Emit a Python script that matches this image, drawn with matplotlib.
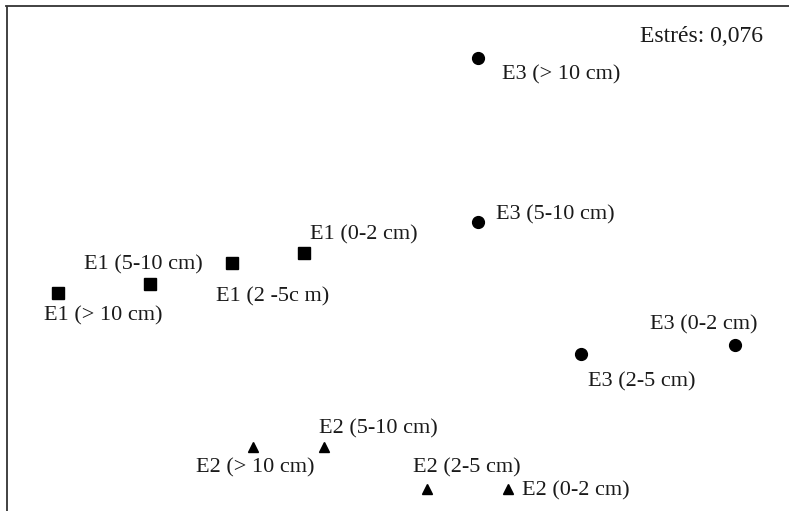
import matplotlib
matplotlib.use("Agg")
import matplotlib.pyplot as plt

plt.rcParams['font.family'] = ['Liberation Serif', 'DejaVu Serif']

# NMDS coordinates
e1_labels = ["E1 (0-2 cm)", "E1 (2 -5c m)", "E1 (5-10 cm)", "E1 (> 10 cm)"]
e1_x = [-0.24, -0.42, -0.625, -0.855]
e1_y = [0.0675, 0.0425, -0.01, -0.0325]

e2_labels = ["E2 (0-2 cm)", "E2 (2-5 cm)", "E2 (5-10 cm)", "E2 (> 10 cm)"]
e2_x = [0.27, 0.0675, -0.19, -0.3675]
e2_y = [-0.5225, -0.5225, -0.4175, -0.4175]

e3_labels = ["E3 (0-2 cm)", "E3 (2-5 cm)", "E3 (5-10 cm)", "E3 (> 10 cm)"]
e3_x = [0.8375, 0.4525, 0.195, 0.195]
e3_y = [-0.1625, -0.185, 0.145, 0.555]

stress_text = "Estrés: 0,076"

# label offsets in pixels (dx right, dy down) and alignment
e1_off = [(6, -20, 'left'), (-16, 32, 'left'), (-66, -21, 'left'), (-14, 21, 'left')]
e2_off = [(14, 0, 'left'), (-14, -23, 'left'), (-5, -20, 'left'), (-57, 19, 'left')]
e3_off = [(23, -22, 'right'), (7, 26, 'left'), (18, -9, 'left'), (24, 15, 'left')]

W, H = 789, 511
fig = plt.figure(figsize=(W / 100, H / 100), dpi=100)
left = 6.5 / W
top = 1 - 6.5 / H
ax = fig.add_axes([left, 0, 1 - left, top])
ax.set_xlim(-0.98375, 0.9725)
ax.set_ylim(-0.5775, 0.68375)
ax.set_xticks([])
ax.set_yticks([])
for s in ['right', 'bottom']:
    ax.spines[s].set_visible(False)
for s in ['left', 'top']:
    ax.spines[s].set_linewidth(1.3)
    ax.spines[s].set_color('#333333')

ax.plot(e1_x, e1_y, 's', color='black', markersize=8, linestyle='none')
ax.plot(e2_x, e2_y, '^', color='black', markersize=7.5, linestyle='none')
ax.plot(e3_x, e3_y, 'o', color='black', markersize=8.5, linestyle='none')

for labels, xs, ys, offs in [(e1_labels, e1_x, e1_y, e1_off),
                             (e2_labels, e2_x, e2_y, e2_off),
                             (e3_labels, e3_x, e3_y, e3_off)]:
    for lab, x, y, (dx, dy, ha) in zip(labels, xs, ys, offs):
        ax.annotate(lab, (x, y), xytext=(dx * 0.72, -(dy + 2) * 0.72),
                    textcoords='offset points', ha=ha, va='center',
                    fontsize=16, color='#1a1a1a')

fig.text(763 / W, 1 - 36 / H, stress_text, ha='right', va='center',
         fontsize=17, color='#1a1a1a')

fig.savefig("out.png", dpi=100)
